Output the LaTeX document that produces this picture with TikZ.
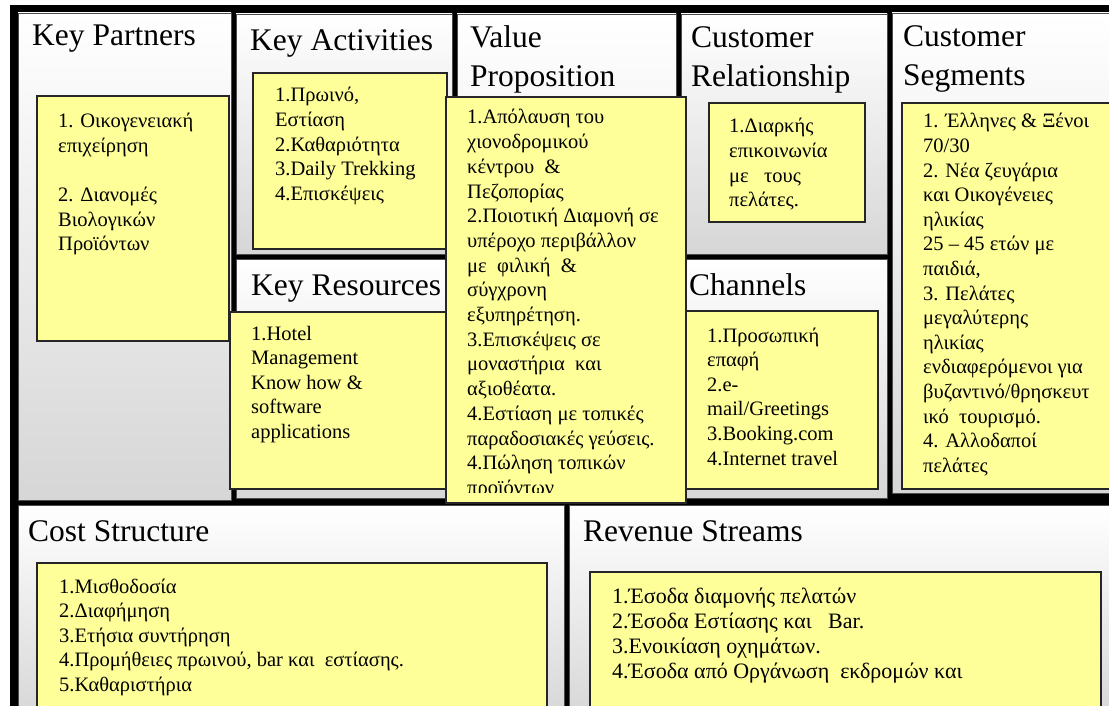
\documentclass[tikz,border=0pt]{standalone}
\usepackage{fontspec}
\setmainfont{Liberation Serif}
\definecolor{notefill}{HTML}{FFFF99}
% lines stacked from the baseline of the first one
\newcommand{\rows}[1]{\begin{tabular}[t]{@{}l@{}}#1\end{tabular}}
\tikzset{
  panel/.style={top color=white, bottom color=black!16, draw=black!70, line width=0.8pt},
  note/.style={fill=notefill, draw=black!85, line width=1.2pt},
  heading/.style={anchor=base west, inner sep=0pt, font=\fontsize{31.5}{38.5}\selectfont},
  items/.style={anchor=base west, inner sep=0pt, font=\fontsize{20.5}{24.6}\selectfont},
}
\begin{document}
\begin{tikzpicture}[x=1pt, y=-1pt]
  \useasboundingbox (0,0) rectangle (1109,706);
  \clip (0,0) rectangle (1109,706);
  % black frame behind the canvas
  \fill[black] (10,5) rectangle (1130,730);
  % the nine blocks
  \path[panel] (18,13) rectangle (231,500);
  \path[panel] (236,14) rectangle (452,254);
  \path[panel] (236,259) rectangle (452,498);
  \path[panel] (457,14) rectangle (676,500);
  \path[panel] (681,14) rectangle (887,254);
  \path[panel] (681,259) rectangle (887,498);
  \path[panel] (892,13) rectangle (1125,493);
  \path[panel] (18,505) rectangle (564,720);
  \path[panel] (569,505) rectangle (1125,720);
  % block titles
  \node[heading] (kpHead) at (32,46) {Key Partners};
  \node[heading] (kaHead) at (250,51) {Key Activities};
  \node[heading] (vpHead) at (470,48) {\rows{Value\\Proposition}};
  \node[heading] (crHead) at (691,48) {\rows{Customer\\Relationship}};
  \node[heading] (csHead) at (903,47) {\rows{Customer\\Segments}};
  \node[heading] (krHead) at (251,295) {Key Resources};
  \node[heading] (chHead) at (689,295) {Channels};
  \node[heading] (costHead) at (28,541) {Cost Structure};
  \node[heading] (revHead) at (583,541) {Revenue Streams};
  % notes
  \path[note] (37,96) rectangle (229,341);
  \node[items] (kpList) at (58,128) {\rows{1. Οικογενειακή\\ επιχείρηση\\[24.6pt]
    2. Διανομές\\ Βιολογικών\\ Προϊόντων}};
  \path[note] (253,73) rectangle (447,249);
  \node[items] (kaList) at (275,102) {\rows{1.Πρωινό,\\ Εστίαση\\ 2.Καθαριότητα\\
    3.Daily Trekking\\ 4.Επισκέψεις}};
  \path[note] (230,312) rectangle (460,489);
  \node[items] (krList) at (251,340) {\rows{1.Hotel\\ Management\\ Know how \&\\
    software\\ applications}};
  \path[note] (680,311) rectangle (878,489);
  \node[items] (chList) at (707,342) {\rows{1.Προσωπική\\ επαφή\\ 2.e-\\
    mail/Greetings\\ 3.Booking.com\\ 4.Internet\ travel}};
  \path[note] (709,103) rectangle (865,222);
  \node[items] (crList) at (729,133) {\rows{1.Διαρκής\\ επικοινωνία\\ με\ \ \ τους\\ πελάτες.}};
  \path[note] (902,103) rectangle (1130,489);
  \node[items] (csList) at (923,128) {\rows{1. Έλληνες \& Ξένοι\\ 70/30\\ 2. Νέα ζευγάρια\\
    και Οικογένειες\\ ηλικίας\\ 25 – 45 ετών με\\ παιδιά,\\ 3. Πελάτες\\
    μεγαλύτερης\\ ηλικίας\\ ενδιαφερόμενοι για\\ βυζαντινό/θρησκευτ\\
    ικό\ \ τουρισμό.\\ 4. Αλλοδαποί\\ πελάτες}};
  \path[note] (37,563) rectangle (547,720);
  \node[items] (costList) at (59,593) {\rows{1.Μισθοδοσία\\ 2.Διαφήμηση\\ 3.Ετήσια συντήρηση\\
    4.Προμήθειες πρωινού, bar και\ \ εστίασης.\\ 5.Καθαριστήρια}};
  \path[note] (590,572) rectangle (1101,720);
  \node[items, font=\fontsize{22}{25.2}\selectfont] (revList) at (612,603)
    {\rows{1.Έσοδα διαμονής πελατών\\ 2.Έσοδα Εστίασης και\ \ \ Bar.\\
    3.Ενοικίαση οχημάτων.\\ 4.Έσοδα από Οργάνωση\ \ εκδρομών και}};
  % value proposition sits on top of its neighbours
  \path[note] (446,97) rectangle (686,503);
  \begin{scope}
    \clip (446,97) rectangle (686,492);
    \node[items, font=\fontsize{20.5}{24.7}\selectfont] (vpList) at (467,124)
      {\rows{1.Απόλαυση του\\ χιονοδρομικού\\ κέντρου\ \ \&\\ Πεζοπορίας\\
      2.Ποιοτική Διαμονή σε\\ υπέροχο περιβάλλον\\ με\ \ φιλική\ \ \&\\ σύγχρονη\\
      εξυπηρέτηση.\\ 3.Επισκέψεις σε\\ μοναστήρια\ \ και\\ αξιοθέατα.\\
      4.Εστίαση με τοπικές\\ παραδοσιακές γεύσεις.\\ 4.Πώληση τοπικών\\ προϊόντων}};
  \end{scope}
\end{tikzpicture}
\end{document}
